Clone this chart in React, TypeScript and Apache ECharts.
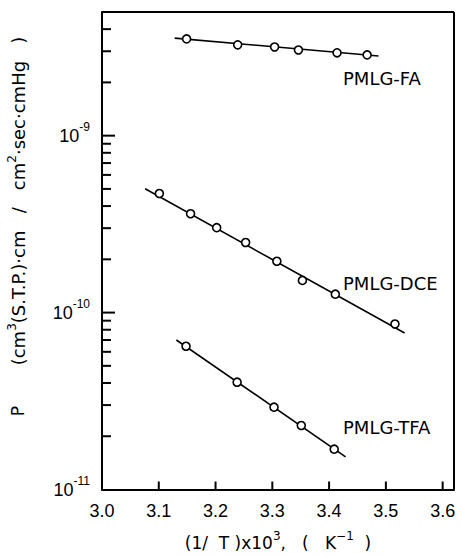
import React, { useEffect, useRef } from "react";
import * as echarts from "echarts";

// PMLG-FA
const FA_X = [3.149, 3.239, 3.304, 3.346, 3.414, 3.467];
const FA_Y = [3.52e-9, 3.26e-9, 3.17e-9, 3.05e-9, 2.94e-9, 2.86e-9];
const FA_FIT_X = [3.128, 3.487];
const FA_FIT_Y = [3.56e-9, 2.82e-9];

// PMLG-DCE
const DCE_X = [3.101, 3.156, 3.202, 3.253, 3.308, 3.353, 3.411, 3.516];
const DCE_Y = [4.71e-10, 3.62e-10, 3.02e-10, 2.49e-10, 1.95e-10, 1.52e-10, 1.27e-10, 8.62e-11];
const DCE_FIT_X = [3.076, 3.533];
const DCE_FIT_Y = [5.01e-10, 7.66e-11];

// PMLG-TFA
const TFA_X = [3.148, 3.238, 3.303, 3.351, 3.409];
const TFA_Y = [6.45e-11, 4.04e-11, 2.92e-11, 2.3e-11, 1.69e-11];
const TFA_FIT_X = [3.131, 3.429];
const TFA_FIT_Y = [7.0e-11, 1.53e-11];

// Axes
const X_MIN = 3.0;
const X_MAX = 3.62;
const X_STEP = 0.1;
const X_TICKS = [3.1, 3.2, 3.3, 3.4, 3.5, 3.6];
const Y_MIN = 1e-11;
const Y_MAX = 5e-9;
const Y_MAJOR = [1e-10, 1e-9];
const Y_MINOR = [
  2e-11, 3e-11, 4e-11, 5e-11, 6e-11, 7e-11, 8e-11, 9e-11,
  2e-10, 3e-10, 4e-10, 5e-10, 6e-10, 7e-10, 8e-10, 9e-10,
  2e-9, 3e-9, 4e-9,
];

const SERIES_LABELS = ["PMLG-FA", "PMLG-DCE", "PMLG-TFA"];

const zip = (xs: number[], ys: number[]) => xs.map((x, i) => [x, ys[i]]);

// kinds for the custom series: 0 fit line, 1 major y tick, 2 minor y tick, 3 x tick, 4 frame segment
const FIT = 0;
const YMAJ = 1;
const YMIN = 2;
const XT = 3;
const FRAME = 4;

export default function App() {
  const ref = useRef<HTMLDivElement>(null);

  useEffect(() => {
    document.body.style.margin = "0";
    const chart = echarts.init(ref.current!, null, { renderer: "svg" });
    const tickFont = "Liberation Sans";
    const textFont = "DejaVu Sans";

    const marks: number[][] = [
      [FA_FIT_X[0], FA_FIT_Y[0], FA_FIT_X[1], FA_FIT_Y[1], FIT],
      [DCE_FIT_X[0], DCE_FIT_Y[0], DCE_FIT_X[1], DCE_FIT_Y[1], FIT],
      [TFA_FIT_X[0], TFA_FIT_Y[0], TFA_FIT_X[1], TFA_FIT_Y[1], FIT],
      ...Y_MAJOR.map((v) => [X_MIN, v, X_MIN, v, YMAJ]),
      ...Y_MINOR.map((v) => [X_MIN, v, X_MIN, v, YMIN]),
      ...X_TICKS.map((v) => [v, Y_MIN, v, Y_MIN, XT]),
      [X_MIN, Y_MAX, X_MAX, Y_MAX, FRAME],
      [X_MAX, Y_MIN, X_MAX, Y_MAX, FRAME],
    ];

    const points = [...zip(FA_X, FA_Y), ...zip(DCE_X, DCE_Y), ...zip(TFA_X, TFA_Y)];

    const option: any = {
      animation: false,
      grid: { left: 102, top: 12, right: 8, bottom: 65 },
      xAxis: {
        type: "value",
        min: X_MIN,
        max: X_MAX,
        interval: X_STEP,
        axisLine: { show: true, lineStyle: { color: "#000", width: 2 } },
        axisTick: { show: false },
        splitLine: { show: false },
        axisLabel: {
          margin: 12,
          color: "#000",
          fontFamily: tickFont,
          fontSize: 18,
          formatter: (v: number) =>
            Math.abs(v * 10 - Math.round(v * 10)) < 1e-6 ? v.toFixed(1) : "",
        },
        name: "{t|(1/  T )x10}{s|3}{t|,   (   K}{s|−1}{t|  )}",
        nameLocation: "middle",
        nameGap: 40,
        nameTextStyle: {
          color: "#000",
          fontFamily: textFont,
          rich: {
            t: { fontSize: 17, color: "#000" },
            s: { fontSize: 12, color: "#000", padding: [0, 0, 14, 0] },
          },
        },
      },
      yAxis: {
        type: "log",
        min: Y_MIN,
        max: Y_MAX,
        axisLine: { show: true, lineStyle: { color: "#000", width: 2 } },
        axisTick: { show: false },
        minorTick: { show: false },
        splitLine: { show: false },
        axisLabel: {
          margin: 12,
          color: "#000",
          fontFamily: tickFont,
          formatter: (v: number) => {
            const e = Math.log10(v);
            if (Math.abs(e - Math.round(e)) > 1e-6) return "";
            return "{b|10}{s|" + Math.round(e) + "}";
          },
          rich: {
            b: { fontSize: 18, color: "#000" },
            s: { fontSize: 12, color: "#000", padding: [0, 0, 18, 0] },
          },
        },
      },
      graphic: [
        {
          type: "text",
          x: 18,
          y: 411,
          rotation: Math.PI / 2,
          style: {
            text: "P",
            fontFamily: textFont,
            fontSize: 17,
            fill: "#000",
            align: "center",
            verticalAlign: "middle",
          },
        },
        {
          type: "text",
          x: 18,
          y: 201,
          rotation: Math.PI / 2,
          style: {
            text: "{t|(cm}{s|3}{t|(S.T.P.)·cm   /   cm}{s|2}{t|·sec·cmHg   )}",
            fontFamily: textFont,
            align: "center",
            verticalAlign: "middle",
            rich: {
              t: { fontFamily: textFont, fontSize: 18, fill: "#000" },
              s: { fontFamily: textFont, fontSize: 12, fill: "#000", padding: [0, 0, 12, 0] },
            },
          },
        },
        {
          type: "text",
          x: 343,
          y: 78,
          style: { text: SERIES_LABELS[0], fontFamily: textFont, fontSize: 18, fill: "#000", align: "left", verticalAlign: "middle" },
        },
        {
          type: "text",
          x: 343,
          y: 283,
          style: { text: SERIES_LABELS[1], fontFamily: textFont, fontSize: 18, fill: "#000", align: "left", verticalAlign: "middle" },
        },
        {
          type: "text",
          x: 343,
          y: 427,
          style: { text: SERIES_LABELS[2], fontFamily: textFont, fontSize: 18, fill: "#000", align: "left", verticalAlign: "middle" },
        },
      ],
      series: [
        {
          type: "custom",
          data: marks,
          renderItem: (_params: any, api: any) => {
            const kind = api.value(4);
            const a = api.coord([api.value(0), api.value(1)]);
            if (kind === FIT || kind === FRAME) {
              const b = api.coord([api.value(2), api.value(3)]);
              return {
                type: "line",
                shape: { x1: a[0], y1: a[1], x2: b[0], y2: b[1] },
                style: { stroke: "#000", lineWidth: kind === FIT ? 1.6 : 2 },
              };
            }
            if (kind === XT) {
              return {
                type: "rect",
                shape: { x: a[0] - 1, y: a[1] - 8, width: 2, height: 8 },
                style: { fill: "#000" },
              };
            }
            const len = kind === YMAJ ? 13 : 9;
            return {
              type: "rect",
              shape: { x: a[0], y: a[1] - 1, width: len, height: 2 },
              style: { fill: "#000" },
            };
          },
        },
        {
          type: "scatter",
          data: points,
          symbolSize: 8,
          itemStyle: { color: "#fff", borderColor: "#000", borderWidth: 1.6, opacity: 1 },
          z: 5,
        },
      ],
    };

    chart.setOption(option);
    return () => chart.dispose();
  }, []);

  return <div ref={ref} style={{ width: 462, height: 556 }} />;
}
